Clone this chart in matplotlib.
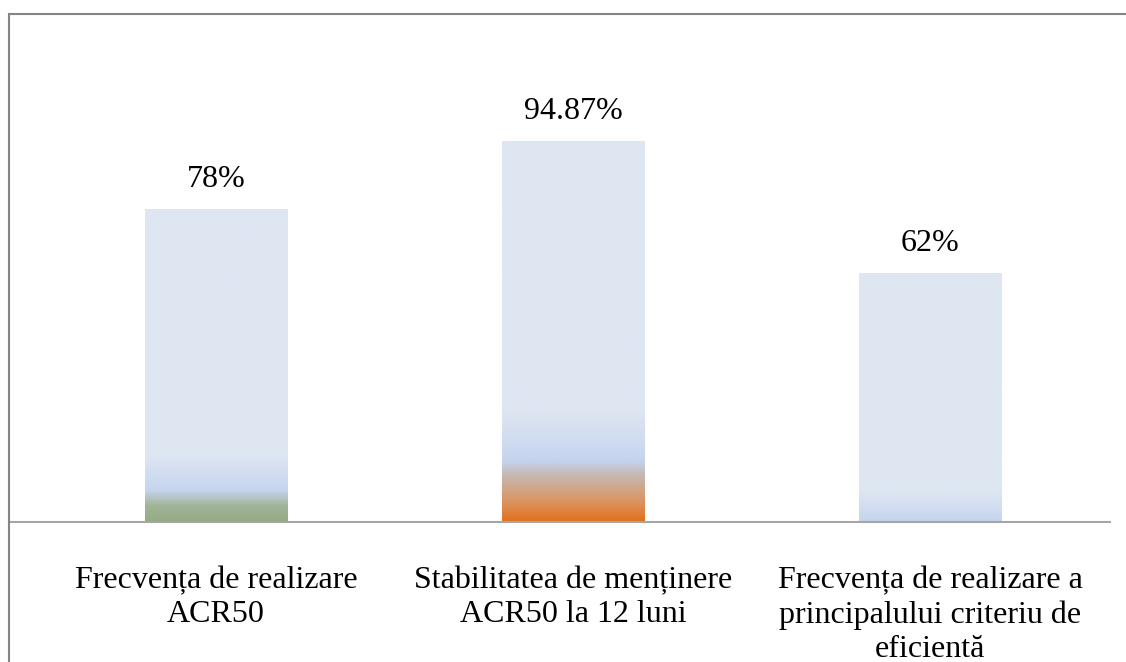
import numpy as np
import matplotlib.pyplot as plt
from matplotlib.colors import LinearSegmentedColormap
from matplotlib.patches import Rectangle

# date
categories = ['Frecvența de realizare\nACR50',
              'Stabilitatea de menținere\nACR50 la 12 luni',
              'Frecvența de realizare a\nprincipalului criteriu de\neficientă']
values = [0.78, 0.9487, 0.62]
value_labels = ['78%', '94.87%', '62%']

# gradient (fractie din inaltimea barei, culoare)
gradients = [
    [(0.0, '#94AB82'), (0.05, '#A2B497'), (0.10, '#C5D4EE'), (0.21, '#DEE6F2'), (1.0, '#DFE6F3')],
    [(0.0, '#E2711B'), (0.06, '#D9986A'), (0.125, '#C5BAB6'), (0.16, '#C5D4EE'), (0.29, '#DEE6F2'), (1.0, '#DFE6F3')],
    [(0.0, '#C5D4EE'), (0.12, '#DEE6F2'), (1.0, '#DFE6F3')],
]

plt.rcParams['font.family'] = ['Liberation Serif', 'DejaVu Serif']

W, H = 1126, 662
fig = plt.figure(figsize=(W / 100, H / 100), dpi=100)
ax = fig.add_axes([10 / W, (H - 522) / H, 1100 / W, (522 - 13) / H])

x = np.arange(len(categories))
width = 0.40
for i, (xi, v) in enumerate(zip(x, values)):
    cmap = LinearSegmentedColormap.from_list('g%d' % i, gradients[i])
    grad = np.linspace(0, 1, 256).reshape(-1, 1)
    ax.imshow(grad, cmap=cmap, origin='lower', aspect='auto',
              extent=[xi - width / 2, xi + width / 2, 0, v], zorder=2)
    ax.annotate(value_labels[i], (xi, v), xytext=(0, 21.5), textcoords='offset points',
                ha='center', va='center', fontsize=23, color='black')

ax.set_xlim(-0.577, 2.504)
ax.set_ylim(0, 1.27)
ax.set_xticks(x)
ax.set_xticklabels(categories, fontsize=23, linespacing=1.23)
ax.tick_params(axis='x', length=0, pad=31.5)
ax.set_yticks([])
for s in ['top', 'left', 'right']:
    ax.spines[s].set_visible(False)
ax.spines['bottom'].set_color('#A6A6A6')
ax.spines['bottom'].set_linewidth(1.5)
ax.spines['bottom'].set_zorder(3)

# chenarul graficului
fig.patches.append(Rectangle((8.5 / W, -0.1), 1.2, (H - 13.5) / H + 0.1,
                             transform=fig.transFigure, fill=False,
                             edgecolor='#858585', linewidth=1.5, clip_on=False))

fig.savefig('out.png', dpi=100)
